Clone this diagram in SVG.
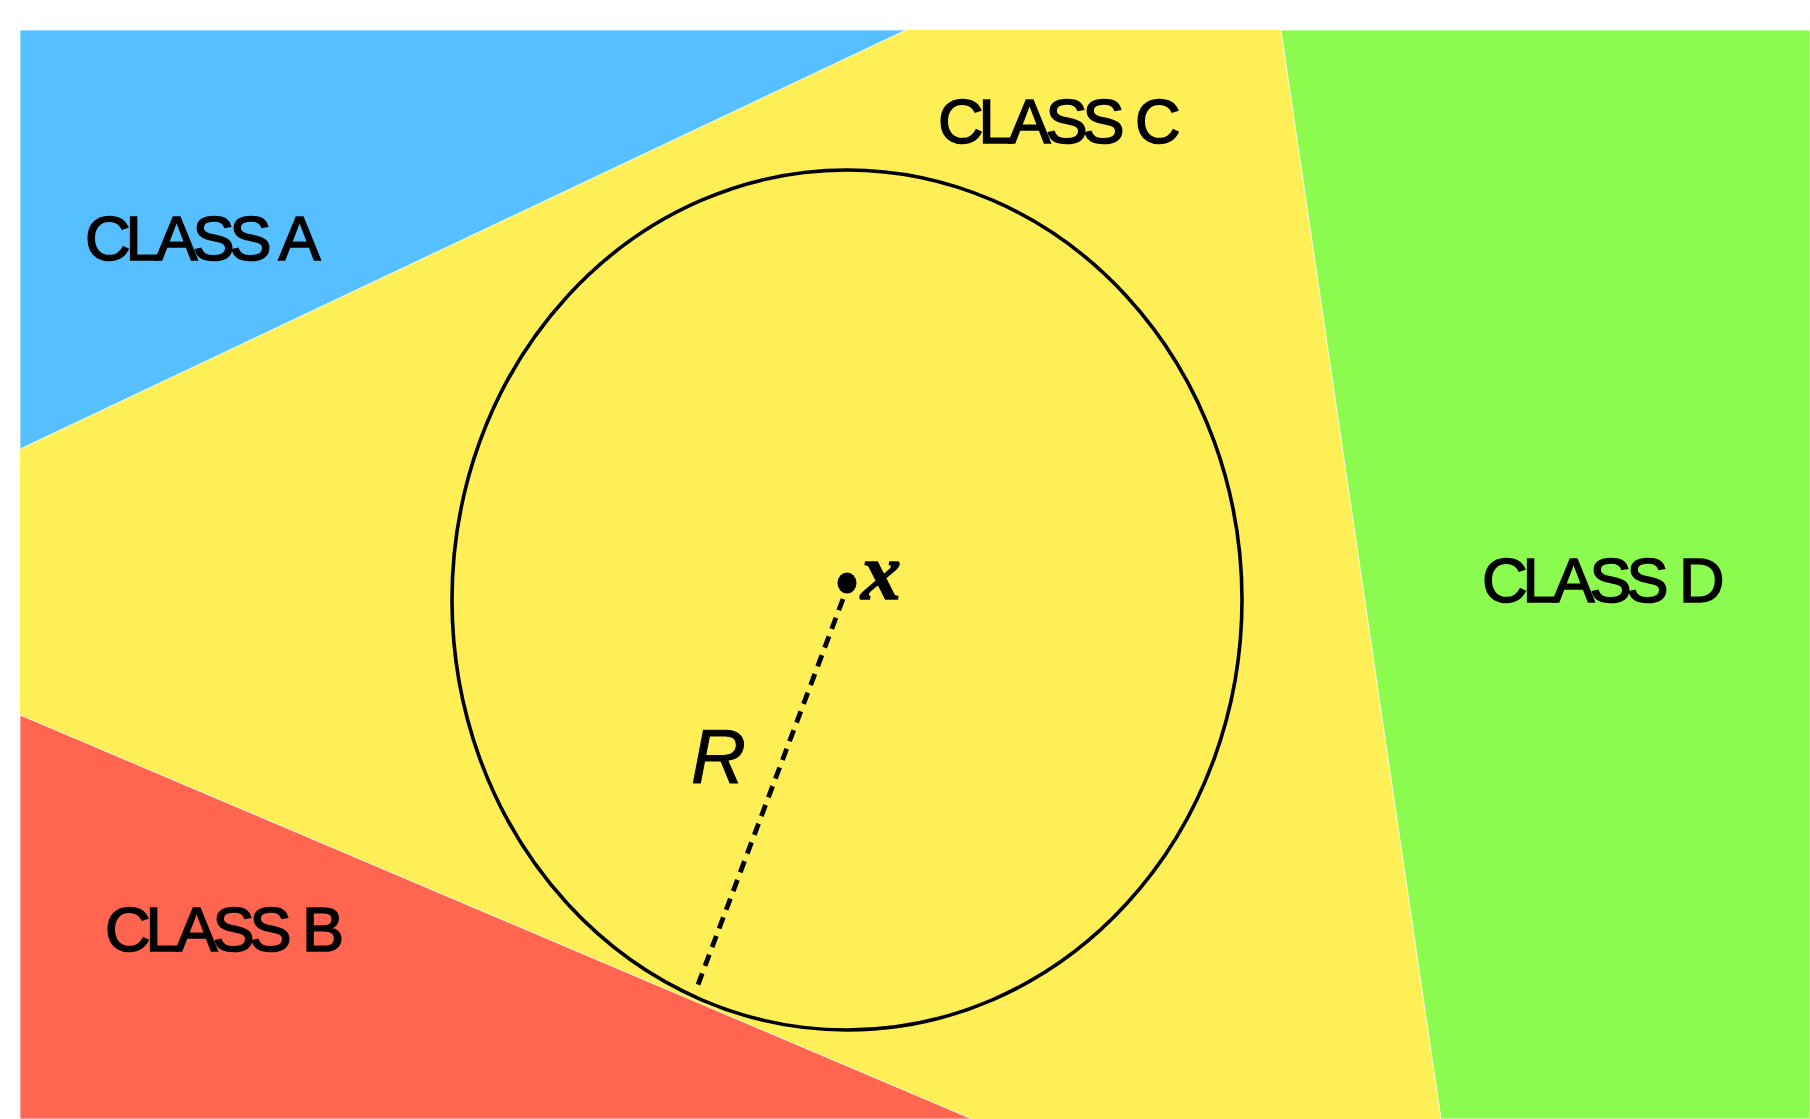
<svg xmlns="http://www.w3.org/2000/svg" width="1810" height="1119" viewBox="0 0 1810 1119">
<style>
.lbl{font-family:"Liberation Sans",Arial,sans-serif;font-size:63px;fill:#000;stroke:#000;stroke-width:1.6;letter-spacing:-5px;word-spacing:3px}
.region{stroke:#fff;stroke-width:0.8}
</style>
<rect width="1810" height="1119" fill="#fff"/>
<g id="regions">
<rect id="class-c-region" x="20" y="30" width="1790" height="1089" fill="#feef56"/>
<polygon id="class-a-region" class="region" points="20,30 906,30 20,449" fill="#56bfff"/>
<polygon id="class-b-region" class="region" points="20,715 972,1119 20,1119" fill="#ff654f"/>
<polygon id="class-d-region" class="region" points="1281,30 1810,30 1810,1119 1441,1119" fill="#8bfc4f"/>
</g>
<g id="labels">
<text id="label-a" class="lbl" x="85" y="260">CLASS A</text>
<text id="label-b" class="lbl" x="105" y="951">CLASS B</text>
<text id="label-c" class="lbl" x="938" y="143">CLASS C</text>
<text id="label-d" class="lbl" x="1482" y="602">CLASS D</text>
</g>
<g id="circle-node">
<ellipse cx="847" cy="600" rx="395" ry="430" fill="none" stroke="#000" stroke-width="3.6"/>
</g>
<g id="point-x">
<ellipse cx="847" cy="583" rx="9.5" ry="10.5" fill="#000"/>
<text x="861" y="599" font-family="'Liberation Serif','Times New Roman',serif" font-style="italic" font-weight="bold" font-size="80" fill="#000" stroke="#000" stroke-width="1.5">x</text>
</g>
<g id="connectors">
<line x1="843" y1="599" x2="696" y2="990" stroke="#000" stroke-width="4.8" stroke-dasharray="12 8"/>
</g>
<g id="radius-label">
<text x="691" y="783" font-family="'Liberation Sans',Arial,sans-serif" font-style="italic" font-size="76" fill="#000" stroke="#000" stroke-width="1">R</text>
</g>
</svg>
